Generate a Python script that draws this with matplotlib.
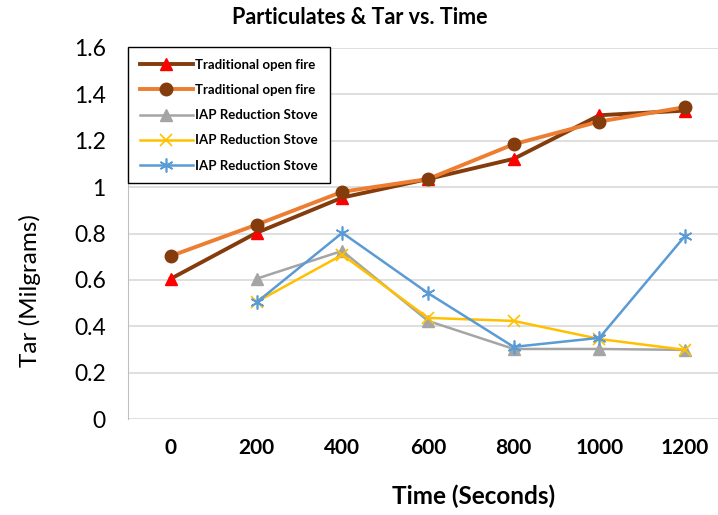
import numpy as np
import matplotlib
matplotlib.use("Agg")
from matplotlib import pyplot as plt

plt.rcParams['font.family'] = ['Lato', 'DejaVu Sans']

# Data
times = ['0', '200', '400', '600', '800', '1000', '1200']
open_fire_a = [0.605, 0.803, 0.955, 1.035, 1.122, 1.31, 1.33]
open_fire_b = [0.703, 0.838, 0.98, 1.035, 1.185, 1.283, 1.345]
iap_gray = [np.nan, 0.605, 0.725, 0.423, 0.302, 0.302, 0.298]
iap_yellow = [np.nan, 0.505, 0.708, 0.436, 0.423, 0.345, 0.298]
iap_blue = [np.nan, 0.503, 0.803, 0.543, 0.311, 0.35, 0.79]

x = np.arange(len(times))

fig = plt.figure(figsize=(7.18, 5.15), dpi=100)
ax = fig.add_axes([128 / 718, 1 - 419 / 515, 600 / 718, 371 / 515])

ax.plot(x, open_fire_a, color='#843C0C', lw=2.8, marker='^', ms=9,
        mfc='#FF0000', mec='#FF0000', label='Traditional open fire', zorder=4)
ax.plot(x, open_fire_b, color='#ED7D31', lw=2.8, marker='o', ms=9,
        mfc='#843C0C', mec='#843C0C', label='Traditional open fire', zorder=5)
ax.plot(x, iap_gray, color='#A5A5A5', lw=1.8, marker='^', ms=8,
        mfc='#A5A5A5', mec='#A5A5A5', label='IAP Reduction Stove', zorder=3)
ax.plot(x, iap_yellow, color='#FFC000', lw=1.8, marker='x', ms=9, mew=1.2,
        label='IAP Reduction Stove', zorder=3)
ax.plot(x, iap_blue, color='#5B9BD5', lw=1.8, marker=(6, 2, 0), ms=10, mew=1.2,
        label='IAP Reduction Stove', zorder=3)

ax.set_xlim(-0.5, 6.5)
ax.set_ylim(0, 1.6)
ax.set_xticks(x)
ax.set_xticklabels(times, fontsize=15, fontweight='bold')
yt = np.arange(0, 1.61, 0.2)
ax.set_yticks(yt)
ax.set_yticklabels(['0', '0.2', '0.4', '0.6', '0.8', '1', '1.2', '1.4', '1.6'], fontsize=16.5)
ax.tick_params(length=0)
ax.tick_params(axis='x', pad=14)
ax.tick_params(axis='y', pad=16)
ax.grid(axis='y', color='#D9D9D9', lw=1.2)
ax.set_axisbelow(True)
for s in ax.spines.values():
    s.set_visible(False)
ax.spines['left'].set_visible(True)
ax.spines['left'].set_color('#BFBFBF')
ax.spines['left'].set_linewidth(0.8)

fig.text(360 / 718, 1 - 18 / 515, 'Particulates & Tar vs. Time', ha='center', va='center',
         fontsize=15.5, fontweight='bold')
fig.text(474 / 718, 1 - 496 / 515, 'Time (Seconds)', ha='center', va='center',
         fontsize=17.5, fontweight='bold')
fig.text(30 / 718, 1 - 291 / 515, 'Tar (Milgrams)', ha='center', va='center',
         fontsize=17.5, rotation=90)

leg = ax.legend(loc='upper left', bbox_to_anchor=(0, 1.003), borderaxespad=0,
                prop={'size': 9.5, 'weight': 'bold'}, fancybox=False, framealpha=1,
                edgecolor='black', handlelength=4.0, labelspacing=1.0,
                borderpad=0.9, handletextpad=0.2)
leg.get_frame().set_linewidth(1.0)

fig.savefig('out.png', dpi=100)
